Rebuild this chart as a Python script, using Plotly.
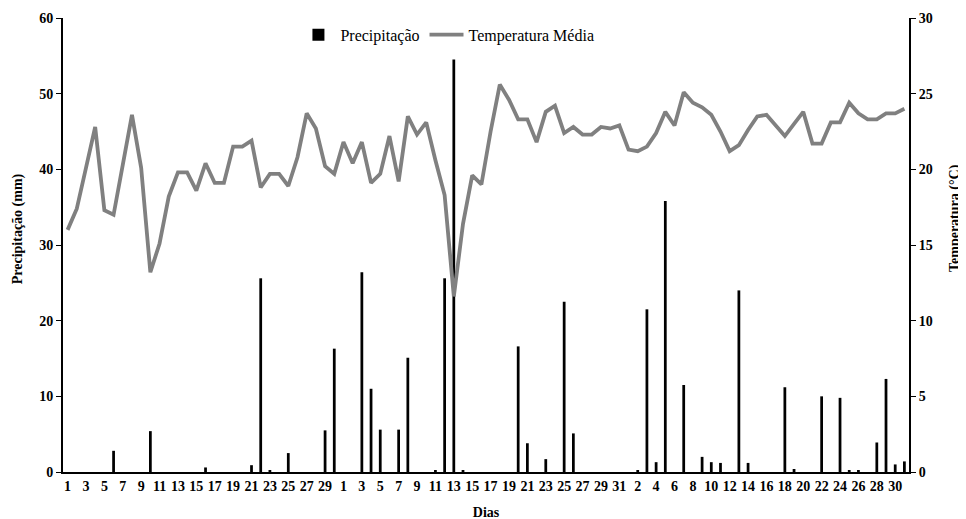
import plotly.graph_objects as go

# Day labels for the three months (30 + 31 + 31 days)
dias = list(range(1, 31)) + list(range(1, 32)) + list(range(1, 32))

# Precipitation (mm)
precip_m1 = [0, 0, 0, 0, 0, 2.8, 0, 0, 0, 5.4,
             0, 0, 0, 0, 0, 0.6, 0, 0, 0, 0,
             0.9, 25.6, 0.2, 0, 2.5, 0, 0, 0, 5.5, 16.3]
precip_m2 = [0, 0, 26.4, 11.0, 5.6, 0, 5.6, 15.1, 0, 0,
             0.2, 25.6, 54.5, 0.2, 0, 0, 0, 0, 0, 16.6,
             3.8, 0, 1.7, 0, 22.5, 5.1, 0, 0, 0, 0, 0]
precip_m3 = [0, 0.2, 21.5, 1.3, 35.8, 0, 11.5, 0, 2.0, 1.3,
             1.2, 0, 24.0, 1.2, 0, 0, 0, 11.2, 0.4, 0,
             0, 10.0, 0, 9.8, 0.2, 0.2, 0, 3.9, 12.3, 1.0, 1.4]

# Mean temperature (°C)
temp_m1 = [16.0, 17.4, 20.1, 22.8, 17.3, 17.0, 20.3, 23.6, 20.1, 13.2,
           15.1, 18.2, 19.8, 19.8, 18.6, 20.4, 19.1, 19.1, 21.5, 21.5,
           21.9, 18.8, 19.7, 19.7, 18.9, 20.8, 23.7, 22.7, 20.2, 19.7]
temp_m2 = [21.8, 20.4, 21.8, 19.1, 19.7, 22.2, 19.2, 23.5, 22.3, 23.1,
           20.6, 18.3, 11.6, 16.4, 19.6, 19.0, 22.5, 25.6, 24.6, 23.3,
           23.3, 21.8, 23.8, 24.2, 22.4, 22.8, 22.3, 22.3, 22.8, 22.7, 22.9]
temp_m3 = [21.3, 21.2, 21.5, 22.4, 23.8, 22.9, 25.1, 24.4, 24.1, 23.6,
           22.5, 21.2, 21.6, 22.6, 23.5, 23.6, 22.9, 22.2, 23.0, 23.8,
           21.7, 21.7, 23.1, 23.1, 24.4, 23.7, 23.3, 23.3, 23.7, 23.7, 24.0]

precip = precip_m1 + precip_m2 + precip_m3
temp = temp_m1 + temp_m2 + temp_m3
idx = list(range(len(dias)))

FONT = "Liberation Serif, Times New Roman, Times, serif"
BOLD = dict(family=FONT, size=14, color="black", weight="bold")

fig = go.Figure()
fig.add_trace(go.Bar(
    x=idx, y=precip, name="Precipitação",
    marker=dict(color="black", line=dict(width=0)),
    width=0.3, yaxis="y",
))
fig.add_trace(go.Scatter(
    x=idx, y=temp, name="Temperatura Média",
    mode="lines", line=dict(color="#808080", width=3.8),
    yaxis="y2",
))

fig.update_layout(
    width=966, height=519,
    # the page body adds an 8px offset; margins compensate for it
    margin=dict(l=55, r=65, t=10, b=55),
    paper_bgcolor="white", plot_bgcolor="white",
    font=dict(family=FONT, color="black", size=14),
    showlegend=True,
    legend=dict(
        orientation="h", x=0.455, xanchor="center", y=0.963, yanchor="middle",
        font=dict(family=FONT, size=16, color="black"),
        bgcolor="rgba(0,0,0,0)", itemwidth=34, traceorder="normal",
    ),
    xaxis=dict(
        range=[-0.5, len(dias) - 0.5],
        tickmode="array", tickvals=idx[::2], ticktext=[str(d) for d in dias[::2]],
        tickangle=0, automargin=False,
        showline=True, linecolor="black", linewidth=2,
        ticks="", showgrid=False, zeroline=False,
        tickfont=BOLD,
        title=dict(text="<b>Dias</b>", font=dict(family=FONT, size=14), standoff=14),
    ),
    yaxis=dict(
        range=[0, 60], dtick=10, tick0=0, automargin=False,
        showline=True, linecolor="black", linewidth=2,
        ticks="outside", ticklen=5, tickcolor="black", tickwidth=1,
        showgrid=False, zeroline=False,
        tickfont=BOLD,
    ),
    yaxis2=dict(
        range=[0, 30], dtick=5, tick0=0, automargin=False,
        overlaying="y", side="right",
        showline=True, linecolor="black", linewidth=2,
        ticks="outside", ticklen=5, tickcolor="black", tickwidth=1,
        showgrid=False, zeroline=False,
        tickfont=BOLD,
    ),
    annotations=[
        dict(text="<b>Precipitação (mm)</b>", textangle=-90,
             xref="paper", yref="paper", x=-0.053, y=0.535,
             xanchor="center", yanchor="middle", showarrow=False,
             font=dict(family=FONT, size=14, color="black")),
        dict(text="<b>Temperatura (°C)</b>", textangle=-90,
             xref="paper", yref="paper", x=1.0535, y=0.56,
             xanchor="center", yanchor="middle", showarrow=False,
             font=dict(family=FONT, size=14, color="black")),
    ],
)

fig.write_html("out.html")
